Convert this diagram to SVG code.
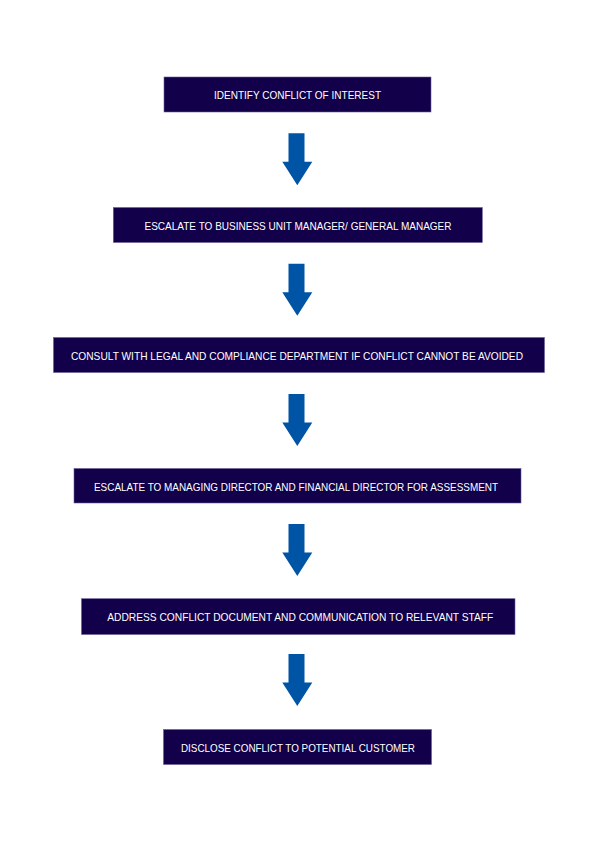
<svg xmlns="http://www.w3.org/2000/svg" width="596" height="842" viewBox="0 0 596 842">
<defs>
<style>
.box{fill:#12004a;stroke:#6a6099;stroke-width:0.6}
.lbl{fill:#ffffff;font-family:"Liberation Sans","DejaVu Sans",sans-serif;font-size:11px;text-anchor:middle}
.arr{fill:#0054a6}
</style>
<polygon id="arrowShape" class="arr" points="288.5,0 304.5,0 304.5,28.5 312.3,28.5 297.3,52 282.3,28.5 288.5,28.5"/>
</defs>
<rect width="596" height="842" fill="#ffffff"/>
<g id="n1"><rect class="box" x="164" y="77" width="267" height="35"/><text class="lbl" x="297.5" y="99.2" textLength="167" lengthAdjust="spacingAndGlyphs">IDENTIFY CONFLICT OF INTEREST</text></g>
<g id="n2"><rect class="box" x="113.3" y="207.5" width="369" height="35"/><text class="lbl" x="298" y="229.7" textLength="307" lengthAdjust="spacingAndGlyphs">ESCALATE TO BUSINESS UNIT MANAGER/ GENERAL MANAGER</text></g>
<g id="n3"><rect class="box" x="53.5" y="337.5" width="491" height="35"/><text class="lbl" x="297" y="359.7" textLength="452" lengthAdjust="spacingAndGlyphs">CONSULT WITH LEGAL AND COMPLIANCE DEPARTMENT IF CONFLICT CANNOT BE AVOIDED</text></g>
<g id="n4"><rect class="box" x="74" y="468.5" width="447" height="34.5"/><text class="lbl" x="296" y="490.5" textLength="404" lengthAdjust="spacingAndGlyphs">ESCALATE TO MANAGING DIRECTOR AND FINANCIAL DIRECTOR FOR ASSESSMENT</text></g>
<g id="n5"><rect class="box" x="81.5" y="598.7" width="433.5" height="35.8"/><text class="lbl" x="300.3" y="621.2" textLength="386" lengthAdjust="spacingAndGlyphs">ADDRESS CONFLICT DOCUMENT AND COMMUNICATION TO RELEVANT STAFF</text></g>
<g id="n6"><rect class="box" x="163.5" y="729.5" width="268" height="35"/><text class="lbl" x="298" y="751.7" textLength="234" lengthAdjust="spacingAndGlyphs">DISCLOSE CONFLICT TO POTENTIAL CUSTOMER</text></g>
<g id="connectors">
<use href="#arrowShape" transform="translate(0,133.3)"/>
<use href="#arrowShape" transform="translate(0,263.7)"/>
<use href="#arrowShape" transform="translate(0,394)"/>
<use href="#arrowShape" transform="translate(0,524)"/>
<use href="#arrowShape" transform="translate(0,654)"/>
</g>
</svg>
